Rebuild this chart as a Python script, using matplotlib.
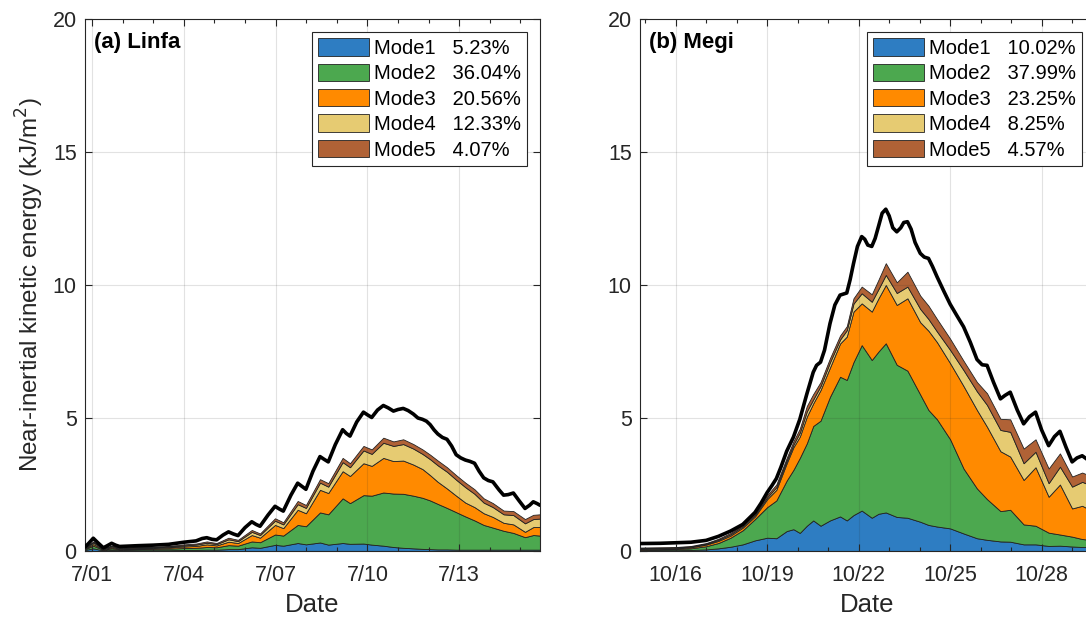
import matplotlib.pyplot as plt
import numpy as np
from matplotlib.ticker import MultipleLocator

plt.rcParams['font.family'] = ['Liberation Sans', 'DejaVu Sans']

# ---- Linfa (days since 7/01 00:00) ----
linfa_days = [-0.23, 0.04, 0.37, 0.64, 0.9, 1.5, 2.0, 2.5, 3.0, 3.4, 3.75, 4.07, 4.46, 4.77,
              5.22, 5.49, 5.98, 6.25, 6.72, 6.99, 7.45, 7.72, 8.19, 8.43, 8.87, 9.14, 9.52,
              9.85, 10.17, 10.5, 10.8, 11.05, 11.3, 11.6, 11.9, 12.2, 12.5, 12.8, 13.1,
              13.45, 13.77, 14.15, 14.42, 14.64]
linfa_mode1 = [0.04, 0.10, 0.02, 0.04, 0.03, 0.03, 0.03, 0.03, 0.04, 0.04, 0.05, 0.05, 0.07, 0.07,
               0.14, 0.12, 0.23, 0.20, 0.30, 0.25, 0.32, 0.24, 0.30, 0.27, 0.28, 0.24, 0.20,
               0.15, 0.12, 0.10, 0.08, 0.07, 0.06, 0.06, 0.05, 0.05, 0.05, 0.05, 0.05,
               0.05, 0.05, 0.05, 0.05, 0.05]
linfa_mode2 = [0.03, 0.10, 0.02, 0.06, 0.03, 0.04, 0.05, 0.06, 0.07, 0.08, 0.10, 0.09, 0.15, 0.13,
               0.22, 0.21, 0.39, 0.38, 0.68, 0.68, 1.13, 1.14, 1.68, 1.53, 1.82, 1.84, 2.00,
               2.01, 2.03, 1.98, 1.92, 1.83, 1.71, 1.56, 1.41, 1.25, 1.10, 0.93, 0.83,
               0.71, 0.63, 0.47, 0.55, 0.53]
linfa_mode3 = [0.02, 0.06, 0.02, 0.04, 0.03, 0.03, 0.03, 0.04, 0.06, 0.07, 0.10, 0.07, 0.13, 0.10,
               0.24, 0.17, 0.36, 0.28, 0.57, 0.49, 0.85, 0.80, 1.02, 1.02, 1.20, 1.12, 1.30,
               1.22, 1.25, 1.17, 1.08, 0.95, 0.83, 0.73, 0.62, 0.52, 0.50, 0.44, 0.40,
               0.30, 0.32, 0.20, 0.30, 0.32]
linfa_mode4 = [0.02, 0.06, 0.02, 0.04, 0.02, 0.03, 0.03, 0.03, 0.04, 0.05, 0.06, 0.05, 0.09, 0.07,
               0.12, 0.10, 0.16, 0.14, 0.21, 0.20, 0.27, 0.24, 0.34, 0.33, 0.48, 0.45, 0.57,
               0.57, 0.62, 0.60, 0.57, 0.60, 0.62, 0.63, 0.60, 0.58, 0.50, 0.40, 0.37,
               0.32, 0.35, 0.32, 0.30, 0.32]
linfa_mode5 = [0.02, 0.04, 0.02, 0.03, 0.02, 0.02, 0.02, 0.03, 0.04, 0.04, 0.05, 0.04, 0.06, 0.05,
               0.07, 0.06, 0.09, 0.08, 0.12, 0.11, 0.13, 0.13, 0.16, 0.15, 0.17, 0.17, 0.19,
               0.17, 0.18, 0.17, 0.17, 0.17, 0.18, 0.17, 0.17, 0.17, 0.17, 0.16, 0.15,
               0.14, 0.15, 0.16, 0.16, 0.16]
# total energy is sampled more finely than the modes
linfa_total_days = [-0.23, -0.1, 0.04, 0.2, 0.37, 0.5, 0.64, 0.77, 0.9, 1.5, 2.0, 2.5, 3.0, 3.4,
                    3.6, 3.75, 3.92, 4.07, 4.28, 4.46, 4.62, 4.77, 5.0, 5.22, 5.36, 5.49, 5.75,
                    5.98, 6.12, 6.25, 6.5, 6.72, 6.86, 6.99, 7.22, 7.45, 7.58, 7.72, 7.95, 8.19,
                    8.31, 8.43, 8.65, 8.87, 9.0, 9.14, 9.33, 9.52, 9.68, 9.85, 10.0, 10.17,
                    10.33, 10.5, 10.65, 10.8, 10.93, 11.05, 11.18, 11.3, 11.45, 11.6, 11.75,
                    11.9, 12.05, 12.2, 12.35, 12.5, 12.65, 12.8, 12.95, 13.1, 13.3, 13.45,
                    13.6, 13.77, 13.95, 14.15, 14.3, 14.42, 14.55, 14.64]
linfa_total = [0.15, 0.30, 0.48, 0.30, 0.12, 0.20, 0.29, 0.22, 0.17, 0.20, 0.22, 0.25, 0.33, 0.38,
               0.47, 0.50, 0.44, 0.42, 0.60, 0.72, 0.64, 0.58, 0.88, 1.10, 1.00, 0.93, 1.35,
               1.68, 1.58, 1.50, 2.10, 2.55, 2.43, 2.32, 3.00, 3.55, 3.45, 3.35, 4.00, 4.56,
               4.42, 4.32, 4.85, 5.22, 5.12, 5.02, 5.30, 5.47, 5.38, 5.26, 5.32, 5.36,
               5.28, 5.15, 5.00, 4.95, 4.88, 4.75, 4.55, 4.40, 4.27, 4.20, 3.95,
               3.62, 3.50, 3.42, 3.37, 3.30, 3.00, 2.75, 2.65, 2.60, 2.30, 2.10,
               2.12, 2.18, 1.90, 1.60, 1.72, 1.85, 1.78, 1.72]
linfa_pct = ['5.23%', '36.04%', '20.56%', '12.33%', '4.07%']
linfa_ticks = [0, 3, 6, 9, 12]
linfa_ticklabels = ['7/01', '7/04', '7/07', '7/10', '7/13']

# ---- Megi (days since 10/16 00:00) ----
megi_days = [-1.17, 0.0, 0.5, 1.0, 1.4, 1.8, 2.2, 2.6, 3.0, 3.3, 3.64, 3.86, 4.07, 4.3, 4.51,
             4.75, 5.06, 5.39, 5.61, 5.83, 6.1, 6.43, 6.65, 6.89, 7.25, 7.6, 8.02, 8.29,
             8.57, 9.0, 9.44, 9.88, 10.21, 10.65, 10.97, 11.41, 11.8, 12.23, 12.6, 13.0,
             13.33, 13.75]
megi_mode1 = [0.02, 0.03, 0.04, 0.06, 0.10, 0.16, 0.25, 0.40, 0.50, 0.48, 0.75, 0.82, 0.68, 0.95, 1.15,
              0.95, 1.15, 1.30, 1.15, 1.35, 1.52, 1.25, 1.40, 1.45, 1.28, 1.25, 1.10, 0.98,
              0.92, 0.85, 0.66, 0.48, 0.42, 0.36, 0.35, 0.25, 0.25, 0.19, 0.20, 0.17,
              0.15, 0.14]
megi_mode2 = [0.03, 0.04, 0.06, 0.12, 0.20, 0.34, 0.53, 0.80, 1.15, 1.42, 1.90, 2.23, 2.82, 3.10, 3.55,
              3.95, 4.65, 5.25, 5.28, 5.75, 6.22, 5.93, 6.10, 6.36, 5.72, 5.53, 4.78, 4.32,
              4.03, 3.35, 2.44, 1.87, 1.53, 1.14, 1.20, 0.75, 0.70, 0.50, 0.42, 0.37,
              0.30, 0.26]
megi_mode3 = [0.03, 0.03, 0.04, 0.06, 0.08, 0.08, 0.10, 0.10, 0.30, 0.40, 0.65, 0.85, 0.80, 1.00, 0.85,
              1.15, 1.10, 1.25, 1.63, 1.90, 1.57, 1.82, 2.00, 2.19, 2.25, 2.72, 2.72, 2.98,
              2.90, 2.86, 3.10, 2.95, 2.72, 2.25, 2.00, 1.67, 2.20, 1.35, 1.88, 1.06,
              1.25, 1.05]
megi_mode4 = [0.02, 0.02, 0.02, 0.03, 0.04, 0.05, 0.05, 0.06, 0.07, 0.10, 0.10, 0.10, 0.15, 0.20, 0.15,
              0.15, 0.20, 0.15, 0.24, 0.30, 0.38, 0.37, 0.35, 0.38, 0.45, 0.44, 0.50, 0.44,
              0.40, 0.50, 0.60, 0.70, 0.82, 0.80, 0.93, 0.63, 0.58, 0.51, 0.67, 0.82,
              0.90, 0.95]
megi_mode5 = [0.03, 0.03, 0.03, 0.03, 0.04, 0.05, 0.05, 0.06, 0.08, 0.10, 0.10, 0.12, 0.15, 0.20, 0.20,
              0.15, 0.15, 0.15, 0.15, 0.20, 0.25, 0.28, 0.35, 0.44, 0.40, 0.56, 0.50, 0.50,
              0.47, 0.42, 0.35, 0.35, 0.44, 0.42, 0.47, 0.55, 0.47, 0.55, 0.50, 0.38,
              0.35, 0.35]
megi_total_days = [-1.17, -0.5, 0.0, 0.5, 1.0, 1.4, 1.8, 2.2, 2.6, 2.8, 3.0, 3.15, 3.3, 3.45,
                   3.64, 3.86, 4.07, 4.3, 4.51, 4.62, 4.75, 4.88, 5.06, 5.22, 5.39, 5.5, 5.61,
                   5.72, 5.83, 5.96, 6.1, 6.2, 6.3, 6.43, 6.54, 6.65, 6.77, 6.89, 7.0, 7.12,
                   7.25, 7.38, 7.48, 7.6, 7.72, 7.85, 8.02, 8.15, 8.29, 8.42, 8.57, 8.8, 9.0,
                   9.22, 9.44, 9.66, 9.88, 10.05, 10.21, 10.42, 10.65, 10.8, 10.97, 11.2,
                   11.41, 11.6, 11.8, 12.0, 12.23, 12.42, 12.6, 12.8, 13.0, 13.16, 13.33,
                   13.55, 13.75]
megi_total = [0.28, 0.29, 0.31, 0.33, 0.40, 0.55, 0.75, 1.00, 1.45, 1.80, 2.20, 2.45, 2.72, 3.15,
              3.75, 4.28, 4.95, 5.90, 6.72, 6.98, 7.10, 7.55, 8.55, 9.25, 9.62, 9.66, 9.70,
              10.20, 10.80, 11.45, 11.82, 11.72, 11.50, 11.45, 11.75, 12.20, 12.70, 12.85, 12.60, 12.15,
              12.00, 12.15, 12.35, 12.38, 12.10, 11.60, 11.19, 11.05, 11.00, 10.70, 10.31, 9.75, 9.28,
              8.85, 8.43, 7.85, 7.20, 7.00, 6.98, 6.35, 5.72, 5.85, 5.97, 5.30,
              4.78, 5.05, 5.22, 4.55, 3.96, 4.30, 4.50, 3.90, 3.35, 3.50, 3.58,
              3.40, 3.30]
megi_pct = ['10.02%', '37.99%', '23.25%', '8.25%', '4.57%']
megi_ticks = [0, 3, 6, 9, 12]
megi_ticklabels = ['10/16', '10/19', '10/22', '10/25', '10/28']

mode_colors = ['#2E7DC2', '#4CA84F', '#FF8A00', '#E6CB72', '#B06236']
axcol = '#262626'


def panel(ax, days, modes, total_days, total, pct, title, ticks, ticklabels, xlim):
    labels = ['Mode%d   %s' % (i + 1, p) for i, p in enumerate(pct)]
    ax.stackplot(days, *modes, colors=mode_colors, labels=labels,
                 edgecolor='#222222', linewidth=0.6, zorder=2)
    ax.plot(total_days, total, color='k', lw=2.6, zorder=4,
            solid_capstyle='round', solid_joinstyle='round')

    ax.set_xlim(xlim)
    ax.set_ylim(0, 20)
    ax.set_xticks(ticks)
    ax.set_xticklabels(ticklabels)
    ax.set_yticks([0, 5, 10, 15, 20])
    ax.xaxis.set_minor_locator(MultipleLocator(1))
    ax.tick_params(which='both', direction='in', top=True, right=True,
                   colors=axcol, labelsize=15.5, width=0.8)
    ax.tick_params(which='major', length=5)
    ax.tick_params(axis='x', which='major', pad=10)
    ax.tick_params(axis='y', which='major', pad=6)
    ax.tick_params(which='minor', length=3)
    ax.grid(True, which='major', color=axcol, alpha=0.13, lw=0.8, zorder=3)
    ax.set_axisbelow(False)
    for s in ax.spines.values():
        s.set_color(axcol)
        s.set_linewidth(0.8)
    ax.set_xlabel('Date', fontsize=18.5, color=axcol, labelpad=5)
    ax.text(0.02, 0.955, title, transform=ax.transAxes, fontsize=16,
            fontweight='bold', va='center', ha='left', color='k', zorder=6)

    leg = ax.legend(loc='upper right', fontsize=14.5, handlelength=2.5, handleheight=0.95,
                    labelspacing=0.29, borderpad=0.3, handletextpad=0.25,
                    borderaxespad=0.65, fancybox=False, framealpha=1)
    leg.get_frame().set_edgecolor(axcol)
    leg.get_frame().set_linewidth(0.8)
    leg.set_zorder(7)


fig = plt.figure(figsize=(10.86, 6.21), dpi=100)
ax1 = fig.add_axes([85 / 1086, 70 / 621, 455 / 1086, 532 / 621])
ax2 = fig.add_axes([640 / 1086, 70 / 621, 455 / 1086, 532 / 621])

panel(ax1, linfa_days, [linfa_mode1, linfa_mode2, linfa_mode3, linfa_mode4, linfa_mode5],
      linfa_total_days, linfa_total, linfa_pct, '(a) Linfa',
      linfa_ticks, linfa_ticklabels, (-0.23, 14.64))
panel(ax2, megi_days, [megi_mode1, megi_mode2, megi_mode3, megi_mode4, megi_mode5],
      megi_total_days, megi_total, megi_pct, '(b) Megi',
      megi_ticks, megi_ticklabels, (-1.17, 13.75))

ax1.set_ylabel('Near-inertial kinetic energy (kJ/m$^2$)', fontsize=17.5, color=axcol, labelpad=5)

fig.savefig('out.png', dpi=100)
